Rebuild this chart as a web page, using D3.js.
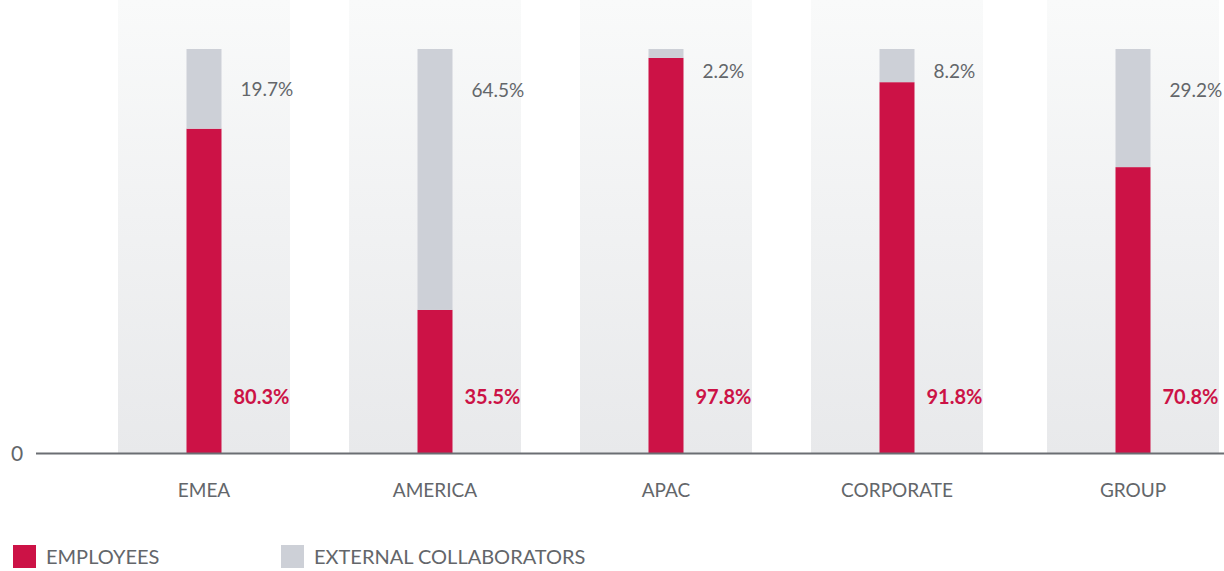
<!DOCTYPE html>
<html>
<head>
<meta charset="utf-8">
<script src="https://cdn.jsdelivr.net/npm/d3@7"></script>
<style>
  html, body { margin: 0; padding: 0; background: #fff; }
  svg { display: block; font-family: Lato, "Open Sans", sans-serif; }
</style>
</head>
<body>
<svg id="chart" width="1224" height="571"></svg>
<script>
// Workforce split by region (%)
const categories = ["EMEA", "AMERICA", "APAC", "CORPORATE", "GROUP"];
const employees = [80.3, 35.5, 97.8, 91.8, 70.8];
const externals = [19.7, 64.5, 2.2, 8.2, 29.2];
const seriesNames = ["EMPLOYEES", "EXTERNAL COLLABORATORS"];
const yTickLabels = ["0"];

const RED = "#cc1246";
const GREY = "#cdd0d7";
const TEXT = "#63666a";

const W = 1224, H = 571;
const baseY = 453.5, topY = 49;
const bandW = 172, barW = 35, totalGap = 5;

const svg = d3.select("#chart");

const defs = svg.append("defs");
const grad = defs.append("linearGradient")
  .attr("id", "bandGrad").attr("x1", 0).attr("y1", 0).attr("x2", 0).attr("y2", 1);
grad.append("stop").attr("offset", "0%").attr("stop-color", "#f9fafa");
grad.append("stop").attr("offset", "100%").attr("stop-color", "#e8e9eb");

const x = d3.scaleBand()
  .domain(categories)
  .range([118, 118 + 4 * 231 + bandW])
  .paddingInner(59 / 231)
  .paddingOuter(0);

// the aggregate column sits slightly apart from the regions
const bandX = c => x(c) + (c === categories[categories.length - 1] ? totalGap : 0);

const y = d3.scaleLinear().domain([0, 100]).range([baseY, topY]);

const rows = categories.map((c, i) => ({ cat: c, emp: employees[i], ext: externals[i] }));

// background columns
svg.append("g").selectAll("rect").data(rows).join("rect")
  .attr("x", d => bandX(d.cat))
  .attr("y", 0)
  .attr("width", x.bandwidth())
  .attr("height", baseY)
  .attr("fill", "url(#bandGrad)");

const barX = d => bandX(d.cat) + (x.bandwidth() - barW) / 2;

// stacked bars: employees at the bottom, external collaborators on top
const bars = svg.append("g");
bars.selectAll("rect.emp").data(rows).join("rect")
  .attr("class", "emp")
  .attr("x", barX)
  .attr("y", d => y(d.emp))
  .attr("width", barW)
  .attr("height", d => y(0) - y(d.emp))
  .attr("fill", RED);
bars.selectAll("rect.ext").data(rows).join("rect")
  .attr("class", "ext")
  .attr("x", barX)
  .attr("y", d => y(d.emp + d.ext))
  .attr("width", barW)
  .attr("height", d => y(d.emp) - y(d.emp + d.ext))
  .attr("fill", GREY);

// value labels
const fmt = v => v.toFixed(1) + "%";
svg.append("g").selectAll("text").data(rows).join("text")
  .attr("x", d => barX(d) + barW + 19)
  .attr("y", d => {
    const mid = (y(d.emp + d.ext) + y(d.emp)) / 2;
    return Math.max(topY + 22, Math.min(mid, topY + 41));
  })
  .attr("dy", "0.36em")
  .attr("fill", TEXT)
  .attr("font-size", 19)
  .text(d => fmt(d.ext));

svg.append("g").selectAll("text").data(rows).join("text")
  .attr("x", d => barX(d) + barW + 12)
  .attr("y", baseY - 57)
  .attr("dy", "0.36em")
  .attr("fill", RED)
  .attr("font-size", 20)
  .attr("font-weight", 700)
  .text(d => fmt(d.emp));

// baseline and zero label
svg.append("line")
  .attr("x1", 36).attr("x2", W)
  .attr("y1", y(0)).attr("y2", y(0))
  .attr("stroke", "#6b6e73").attr("stroke-width", 2);
svg.append("text")
  .attr("x", 17).attr("y", y(0))
  .attr("dy", "0.36em")
  .attr("text-anchor", "middle")
  .attr("fill", TEXT)
  .attr("font-size", 21)
  .text(yTickLabels[0]);

// category labels
svg.append("g").selectAll("text").data(rows).join("text")
  .attr("x", d => barX(d) + barW / 2)
  .attr("y", 490)
  .attr("dy", "0.36em")
  .attr("text-anchor", "middle")
  .attr("fill", TEXT)
  .attr("font-size", 19)
  .text(d => d.cat);

// legend
const legend = svg.append("g");
const legendItems = [
  { name: seriesNames[0], color: RED, x: 13 },
  { name: seriesNames[1], color: GREY, x: 281 }
];
legendItems.forEach(it => {
  legend.append("rect")
    .attr("x", it.x).attr("y", 545)
    .attr("width", 23).attr("height", 23)
    .attr("fill", it.color);
  legend.append("text")
    .attr("x", it.x + 33).attr("y", 557)
    .attr("dy", "0.36em")
    .attr("fill", TEXT)
    .attr("font-size", 20)
    .text(it.name);
});
</script>
</body>
</html>
